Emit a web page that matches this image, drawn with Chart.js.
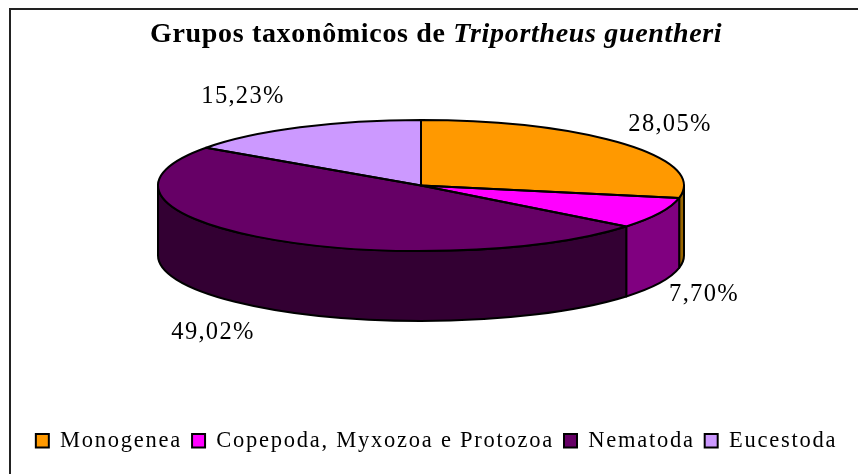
<!DOCTYPE html>
<html>
<head>
<meta charset="utf-8">
<script src="https://cdn.jsdelivr.net/npm/chart.js@4"></script>
<style>
  html, body { margin: 0; padding: 0; background: #fff; }
  canvas { display: block; }
</style>
</head>
<body>
<canvas id="grafico" width="858" height="474"></canvas>
<script>
const categorias = ['Monogenea', 'Copepoda, Myxozoa e Protozoa', 'Nematoda', 'Eucestoda'];
const valores = [28.05, 7.70, 49.02, 15.23];
const coresTopo = ['#ff9900', '#ff00ff', '#660066', '#cc99ff'];
const coresLado = ['#996600', '#800080', '#330033', '#665080'];
const posRotulos = [[670, 125], [704, 295], [213, 333], [243, 97]];

// onde a pizza "deitada" fica na tela
const pizza = { cx: 421, cy: 185.5, rx: 263, ry: 65.5, altura: 70 };

function arcos(chart) {
  return chart.getDatasetMeta(0).data;
}

function fatiaElipse(ctx, ini, fim) {
  ctx.beginPath();
  ctx.moveTo(pizza.cx, pizza.cy);
  ctx.ellipse(pizza.cx, pizza.cy, pizza.rx, pizza.ry, 0, ini, fim);
  ctx.closePath();
}

const pizza3d = {
  id: 'pizza3d',
  beforeUpdate(chart) {
    chart.ctx.letterSpacing = '1.75px';
  },
  beforeDraw(chart) {
    const ctx = chart.ctx;
    ctx.letterSpacing = '1.75px';
    // a moldura original esta cortada: so topo e esquerda aparecem
    ctx.save();
    ctx.strokeStyle = '#222';
    ctx.lineWidth = 2;
    ctx.beginPath();
    ctx.moveTo(10, 474);
    ctx.lineTo(10, 9);
    ctx.lineTo(858, 9);
    ctx.stroke();
    ctx.restore();
  },
  beforeDatasetsDraw(chart) {
    const ctx = chart.ctx;
    // lateral: so a metade da frente aparece
    ctx.save();
    ctx.lineWidth = 2;
    ctx.strokeStyle = '#000';
    ctx.lineJoin = 'round';
    arcos(chart).forEach((arc, i) => {
      const ini = Math.max(arc.startAngle, 0);
      const fim = Math.min(arc.endAngle, Math.PI);
      if (fim <= ini) return;
      ctx.beginPath();
      ctx.ellipse(pizza.cx, pizza.cy, pizza.rx, pizza.ry, 0, ini, fim);
      ctx.ellipse(pizza.cx, pizza.cy + pizza.altura, pizza.rx, pizza.ry, 0, fim, ini, true);
      ctx.closePath();
      ctx.fillStyle = coresLado[i];
      ctx.fill();
      ctx.stroke();
    });
    ctx.restore();
    // o topo sai do arco do proprio Chart.js, achatado
    const a = arcos(chart)[0];
    ctx.save();
    ctx.translate(pizza.cx, pizza.cy);
    ctx.scale(pizza.rx / a.outerRadius, pizza.ry / a.outerRadius);
    ctx.translate(-a.x, -a.y);
  },
  afterDatasetsDraw(chart) {
    const ctx = chart.ctx;
    ctx.restore();
    ctx.save();
    ctx.lineWidth = 2;
    ctx.strokeStyle = '#000';
    ctx.lineJoin = 'round';
    arcos(chart).forEach(arc => {
      fatiaElipse(ctx, arc.startAngle, arc.endAngle);
      ctx.stroke();
    });
    ctx.restore();
  },
  afterDraw(chart) {
    const ctx = chart.ctx;
    ctx.save();
    ctx.fillStyle = '#000';
    ctx.textBaseline = 'middle';
    ctx.textAlign = 'center';
    ctx.font = '24.5px "Liberation Serif"';
    ctx.letterSpacing = '1.3px';
    valores.forEach((v, i) => {
      ctx.fillText(v.toFixed(2).replace('.', ',') + '%', posRotulos[i][0], posRotulos[i][1]);
    });
    // titulo com trecho em italico, o plugin de titulo nao mistura fontes
    ctx.textAlign = 'left';
    ctx.letterSpacing = '0.67px';
    ctx.font = 'bold 28px "Liberation Serif"';
    ctx.fillText('Grupos taxonômicos de ', 150, 35);
    const largura = ctx.measureText('Grupos taxonômicos de ').width;
    ctx.font = 'italic bold 28px "Liberation Serif"';
    ctx.fillText('Triportheus guentheri', 150 + largura, 35);
    ctx.restore();
  }
};

new Chart(document.getElementById('grafico').getContext('2d'), {
  type: 'pie',
  data: {
    labels: categorias,
    datasets: [{
      data: valores,
      backgroundColor: coresTopo,
      borderWidth: 0,
      clip: false
    }]
  },
  options: {
    responsive: false,
    animation: false,
    layout: { padding: { left: 15, bottom: 12, top: 60 } },
    plugins: {
      tooltip: { enabled: false },
      legend: {
        position: 'bottom',
        labels: {
          color: '#000',
          boxWidth: 13,
          boxHeight: 13.5,
          padding: 10,
          font: { family: '"Liberation Serif"', size: 22.5 },
          generateLabels: () => categorias.map((nome, i) => ({
            text: nome,
            fillStyle: coresTopo[i],
            strokeStyle: '#000',
            lineWidth: 2,
            index: i
          }))
        }
      }
    }
  },
  plugins: [pizza3d]
});
</script>
</body>
</html>
